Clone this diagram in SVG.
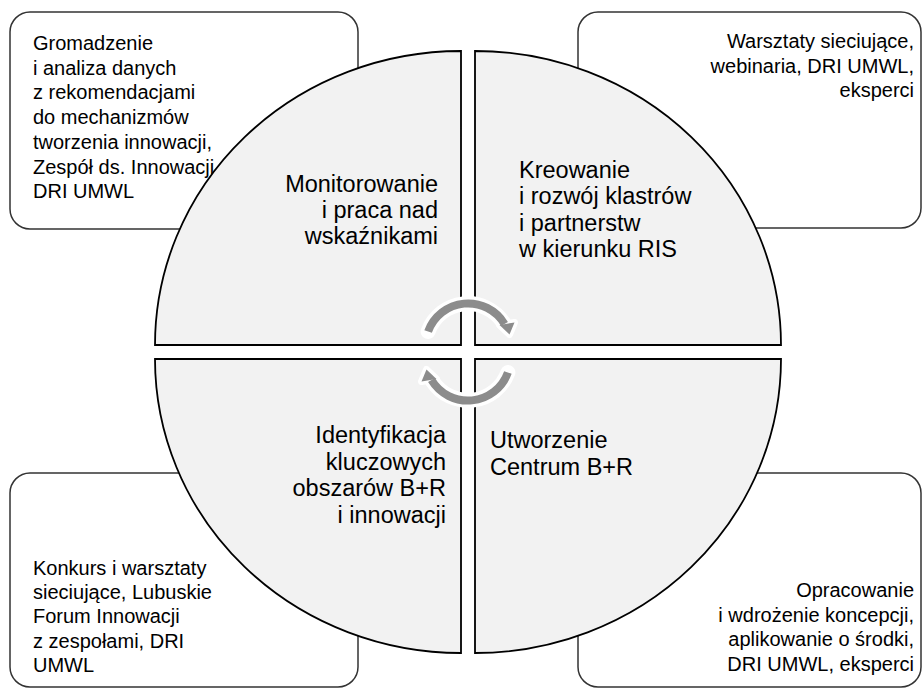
<svg xmlns="http://www.w3.org/2000/svg" width="922" height="688" viewBox="0 0 922 688">
<style>
.box{fill:#ffffff;stroke:#333333;stroke-width:1.5}
.quad{fill:#f2f2f2;stroke:#000000;stroke-width:1.8}
.bt{font-family:"Liberation Sans",Arial,sans-serif;font-size:20px;fill:#000000}
.ct{font-family:"Liberation Sans",Arial,sans-serif;font-size:23.5px;fill:#000000}
.r{text-anchor:end}
.halo{fill:none;stroke:#ffffff;stroke-width:15;stroke-linecap:round}
.haloh{fill:#ffffff;stroke:#ffffff;stroke-width:7;stroke-linejoin:round}
.arc{fill:none;stroke:#8c8c8c;stroke-width:8}
.head{fill:#8c8c8c}
</style>
<defs>
<g id="cyc">
<path class="halo" d="M428.1,331.5 A42.5,42.5 0 0 1 503.6,322.9"/>
<polygon class="haloh" points="499.5,325 514.5,322.5 509.5,334.5"/>
<path class="arc" d="M428.1,331.5 A42.5,42.5 0 0 1 504.5,324"/>
<polygon class="head" points="499.5,325 514.5,322.5 509.5,334.5"/>
</g>
</defs>
<g id="box-tl">
<rect class="box" x="10" y="12" width="348" height="217" rx="20"/>
<text class="bt" x="33" y="50">Gromadzenie<tspan x="33" dy="24.7">i analiza danych</tspan><tspan x="33" dy="24.7">z rekomendacjami</tspan><tspan x="33" dy="24.7">do mechanizmów</tspan><tspan x="33" dy="24.7">tworzenia innowacji,</tspan><tspan x="33" dy="24.7">Zespół ds. Innowacji</tspan><tspan x="33" dy="24.7">DRI UMWL</tspan></text>
</g>
<g id="box-tr">
<rect class="box" x="578" y="12" width="343" height="216" rx="20"/>
<text class="bt r" x="914" y="48">Warsztaty sieciujące,<tspan x="914" dy="24.5">webinaria, DRI UMWL,</tspan><tspan x="914" dy="24.5">eksperci</tspan></text>
</g>
<g id="box-bl">
<rect class="box" x="10" y="473" width="348" height="214" rx="20"/>
<text class="bt" x="33" y="575">Konkurs i warsztaty<tspan x="33" dy="24.2">sieciujące, Lubuskie</tspan><tspan x="33" dy="24.2">Forum Innowacji</tspan><tspan x="33" dy="24.2">z zespołami, DRI</tspan><tspan x="33" dy="24.2">UMWL</tspan></text>
</g>
<g id="box-br">
<rect class="box" x="578" y="473" width="343" height="214" rx="20"/>
<text class="bt r" x="914" y="597">Opracowanie<tspan x="914" dy="24.5">i wdrożenie koncepcji,</tspan><tspan x="914" dy="24.5">aplikowanie o środki,</tspan><tspan x="914" dy="24.5">DRI UMWL, eksperci</tspan></text>
</g>
<g id="q-tl">
<path class="quad" d="M461,345 L155,345 A306,294 0 0 1 461,51 Z"/>
<text class="ct r" x="438" y="192">Monitorowanie<tspan x="438" dy="26">i praca nad</tspan><tspan x="438" dy="26">wskaźnikami</tspan></text>
</g>
<g id="q-tr">
<path class="quad" d="M475,345 L475,51 A306,294 0 0 1 781,345 Z"/>
<text class="ct" x="519" y="178">Kreowanie<tspan x="519" dy="26.3">i rozwój klastrów</tspan><tspan x="519" dy="26.3">i partnerstw</tspan><tspan x="519" dy="26.3">w kierunku RIS</tspan></text>
</g>
<g id="q-br">
<path class="quad" d="M475,359 L781,359 A306,294 0 0 1 475,653 Z"/>
<text class="ct" x="490" y="448">Utworzenie<tspan x="490" dy="26.5">Centrum B+R</tspan></text>
</g>
<g id="q-bl">
<path class="quad" d="M461,359 L461,653 A306,294 0 0 1 155,359 Z"/>
<text class="ct r" x="446" y="443">Identyfikacja<tspan x="446" dy="26.5">kluczowych</tspan><tspan x="446" dy="26.5">obszarów B+R</tspan><tspan x="446" dy="26.5">i innowacji</tspan></text>
</g>
<g id="connectors">
<use href="#cyc"/>
<use href="#cyc" transform="rotate(180 468 352)"/>
</g>
</svg>
